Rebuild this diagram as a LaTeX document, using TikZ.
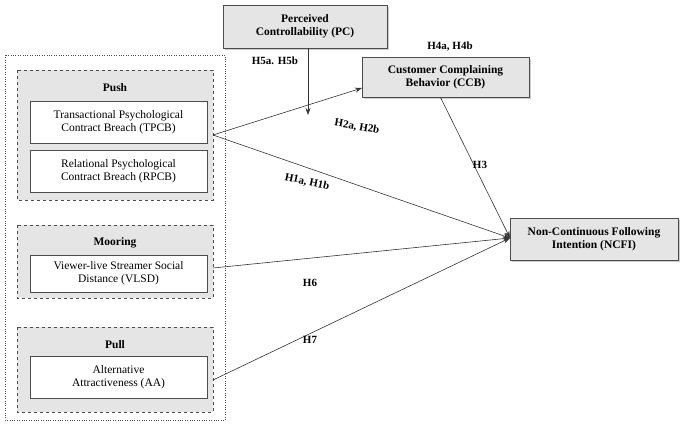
\documentclass[tikz,border=0pt]{standalone}
\usepackage{fontspec}
\setmainfont{Liberation Serif}
\usetikzlibrary{shadows,arrows.meta}
\begin{document}
\begin{tikzpicture}[x=1pt,y=-1pt,
 gbox/.style={draw=black!70,fill=black!10,thick,drop shadow={shadow xshift=2pt,shadow yshift=-2pt,fill=black!40},font=\bfseries\fontsize{11.5}{13}\selectfont,align=center,inner sep=0},
 wbox/.style={draw=black!70,fill=white,font=\fontsize{11.5}{13}\selectfont,align=center,inner sep=0},
 grp/.style={draw=black!70,dashed,thick,fill=black!10},
 arr/.style={-{Stealth[length=7pt,width=5pt]},semithick,black!80},
 lab/.style={font=\bfseries\fontsize{11}{12}\selectfont}]
\useasboundingbox (0,0) rectangle (685,426);
\draw[dotted,black!70] (5,55) rectangle (225,420);
\draw[grp] (17,70) rectangle (213,200);
\node[font=\bfseries\fontsize{11.5}{13}\selectfont] (push) at (115,88) {Push};
\node[wbox,minimum width=177,minimum height=42] (tpcb) at (118.5,122) {Transactional Psychological\\Contract Breach (TPCB)};
\node[wbox,minimum width=177,minimum height=42] (rpcb) at (118.5,171) {Relational Psychological\\Contract Breach (RPCB)};
\draw[grp] (17,225) rectangle (213,298);
\node[font=\bfseries\fontsize{11.5}{13}\selectfont] (moor) at (115,243) {Mooring};
\node[wbox,minimum width=177,minimum height=37] (vlsd) at (118.5,273.5) {Viewer-live Streamer Social\\Distance (VLSD)};
\draw[grp] (17,327) rectangle (213,412);
\node[font=\bfseries\fontsize{11.5}{13}\selectfont] (pull) at (115,345) {Pull};
\node[wbox,minimum width=177,minimum height=42] (aa) at (118.5,377) {Alternative\\Attractiveness (AA)};
\node[gbox,minimum width=164,minimum height=43] (pc) at (305,26.5) {Perceived\\Controllability (PC)};
\node[gbox,minimum width=167,minimum height=40] (ccb) at (445.5,77) {Customer Complaining\\Behavior (CCB)};
\node[gbox,minimum width=168,minimum height=42] (ncfi) at (594,239) {Non-Continuous Following\\Intention (NCFI)};
\coordinate (s1) at (213,135);
\coordinate (s2) at (213,268);
\coordinate (s3) at (213,380);
\coordinate (t) at (510,238);
\coordinate (m) at (308,115);
\draw[arr] (s1) -- (362,88);
\draw[arr] (s1) -- (t);
\draw[arr] (s2) -- (t);
\draw[arr] (s3) -- (t);
\draw[arr] (ccb.south) ++(-5,0) coordinate (cb) (cb) -- (t);
\draw[arr] (pc.south -| m) -- (m);
\node[lab] at (275,61) {H5a. H5b};
\node[lab] at (450,47) {H4a, H4b};
\node[lab,rotate=-10] at (357,127) {H2a, H2b};
\node[lab] at (480,165) {H3};
\node[lab,rotate=-12] at (307,182) {H1a, H1b};
\node[lab] at (310,283) {H6};
\node[lab] at (310,340) {H7};
\end{tikzpicture}
\end{document}
